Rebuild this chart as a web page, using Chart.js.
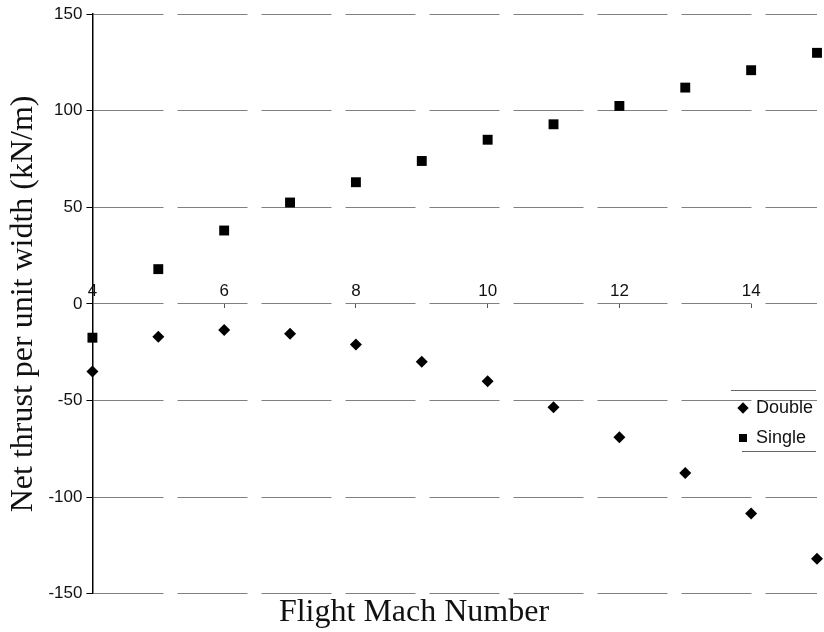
<!DOCTYPE html>
<html>
<head>
<meta charset="utf-8">
<script src="https://cdn.jsdelivr.net/npm/chart.js@4"></script>
<style>
  html, body { margin: 0; padding: 0; background: #fff; overflow: hidden; }
  canvas { display: block; }
</style>
</head>
<body>
<canvas id="chart" width="824" height="632"></canvas>
<script>
const machNumbers = [4, 5, 6, 7, 8, 9, 10, 11, 12, 13, 14, 15];
const doubleThrust = [-35, -17, -13.5, -15.5, -21, -30, -40, -53.5, -69, -87.5, -108.5, -132];
const singleThrust = [-17.5, 18, 38, 52.5, 63, 74, 85, 93, 102.5, 112, 121, 130];
const yTicks = [-150, -100, -50, 0, 50, 100, 150];

const sans = 'Liberation Sans';
const serif = 'Liberation Serif';

function toPoints(values) {
  return machNumbers.map((m, i) => ({ x: m, y: values[i] }));
}

// legend sits inside the plot, lower right, with a thin rule above and below
const legendMover = {
  id: 'legendMover',
  beforeDraw(chart) {
    const lg = chart.legend;
    lg.left = 727; lg.right = 824;
    lg.top = 387; lg.bottom = 460;
  },
  afterDraw(chart) {
    const ctx = chart.ctx;
    ctx.save();
    ctx.strokeStyle = '#666';
    ctx.lineWidth = 1;
    ctx.beginPath();
    ctx.moveTo(731, 390.5); ctx.lineTo(816, 390.5);
    ctx.moveTo(742, 451.5); ctx.lineTo(816, 451.5);
    ctx.stroke();
    ctx.restore();
  }
};

new Chart(document.getElementById('chart'), {
  type: 'scatter',
  data: {
    datasets: [
      {
        label: 'Double',
        data: toPoints(doubleThrust),
        pointStyle: 'rectRot',
        pointRadius: 6,
        pointHoverRadius: 6,
        backgroundColor: '#000',
        borderColor: '#000',
        borderWidth: 0,
        clip: false
      },
      {
        label: 'Single',
        data: toPoints(singleThrust),
        pointStyle: 'rect',
        pointRadius: 7,
        pointHoverRadius: 7,
        backgroundColor: '#000',
        borderColor: '#000',
        borderWidth: 0,
        clip: false
      }
    ]
  },
  options: {
    responsive: false,
    animation: false,
    layout: { padding: { top: -3, right: 0, left: 4, bottom: 0 } },
    scales: {
      x: {
        type: 'linear',
        position: { y: 0 },
        min: 4,
        max: 15,
        grid: { drawOnChartArea: false, tickLength: 4, color: '#555' },
        border: { display: false },
        ticks: {
          stepSize: 2,
          includeBounds: false,
          padding: -27,
          color: '#111',
          font: { family: sans, size: 17 }
        }
      },
      y: {
        min: -150,
        max: 150,
        afterBuildTicks(scale) {
          scale.ticks = yTicks.map(v => ({ value: v }));
        },
        grid: { color: '#808080', lineWidth: 1, tickLength: 6, tickColor: '#000', tickBorderDash: [] },
        border: { color: '#000', width: 1.5, dash: [70, 14] },
        ticks: {
          padding: 4,
          color: '#111',
          font: { family: sans, size: 17 }
        },
        title: {
          display: true,
          text: 'Net thrust per unit width (kN/m)',
          color: '#111',
          font: { family: serif, size: 32 },
          padding: { top: 0, bottom: 2 }
        }
      }
    },
    plugins: {
      title: {
        display: true,
        position: 'bottom',
        text: 'Flight Mach Number',
        color: '#111',
        font: { family: serif, size: 32, weight: 'normal' },
        padding: { top: 0, bottom: 0 }
      },
      legend: {
        position: 'chartArea',
        align: 'start',
        labels: {
          usePointStyle: true,
          boxWidth: 8,
          boxHeight: 8,
          padding: 12,
          color: '#111',
          font: { family: sans, size: 18 }
        }
      },
      tooltip: { enabled: false }
    }
  },
  plugins: [legendMover]
});
</script>
</body>
</html>
